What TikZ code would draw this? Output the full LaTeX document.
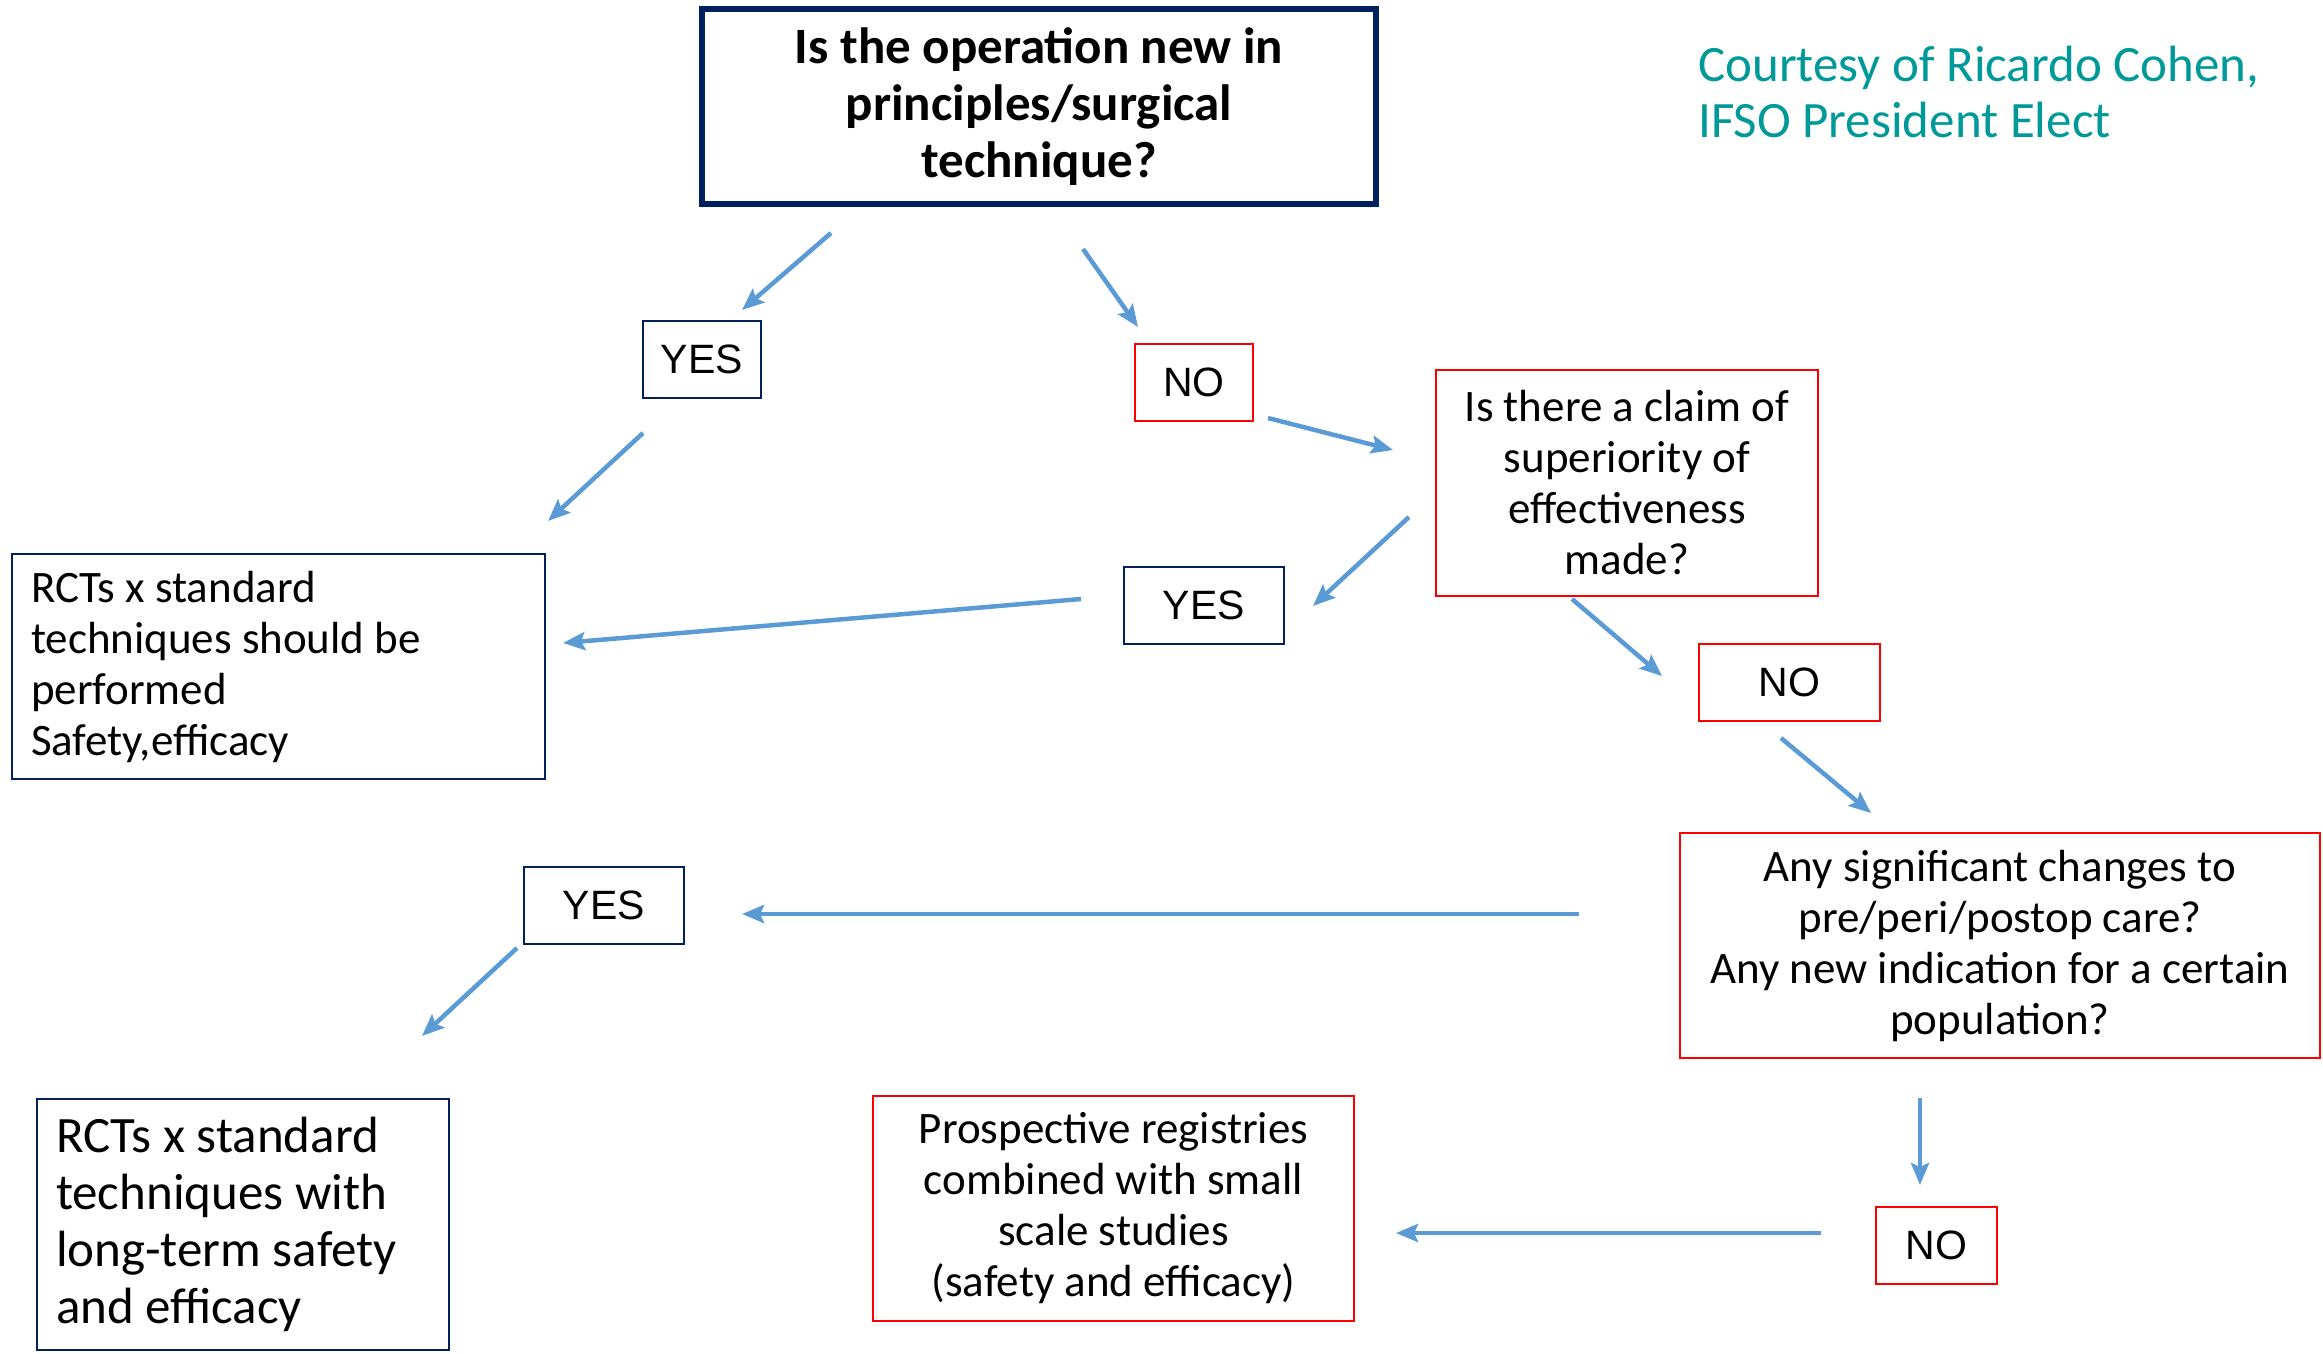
\documentclass[tikz,border=0pt]{standalone}
\usepackage{fontspec}
\setmainfont{Carlito}
\newfontfamily\labelfont{Liberation Sans}
\usetikzlibrary{arrows.meta}
\definecolor{navy}{HTML}{002060}
\definecolor{flow}{HTML}{5B9BD5}
\definecolor{alert}{HTML}{FF0000}
\definecolor{credit}{HTML}{00999A}
\begin{document}
\begin{tikzpicture}[x=1pt,y=-1pt,
  box/.style={draw, line width=2.2pt, inner sep=0pt, align=center},
  navybox/.style={box, draw=navy},
  redbox/.style={box, draw=alert},
  answer/.style={font=\labelfont\fontsize{41}{50}\selectfont, minimum height=77pt},
  body/.style={font=\fontsize{45}{51}\selectfont},
  flowarrow/.style={draw=flow, line width=4.5pt, -{Stealth[length=22pt,width=18pt,inset=4pt]}}
]
\useasboundingbox (0,0) rectangle (2323,1354);

% question at the top
\node[box, draw=navy, line width=6pt, minimum width=674pt, minimum height=195pt,
      font=\bfseries\fontsize{51}{57}\selectfont] (top) at (1039,106.5)
  {Is the operation new in\\principles/surgical\\technique?};

% credit line
\node[anchor=north west, align=flush left, text=credit, inner sep=0pt,
      font=\fontsize{51}{56}\selectfont] (credit) at (1698,46)
  {Courtesy of Ricardo Cohen,\\IFSO President Elect};

% answers and outcomes
\node[navybox, answer, minimum width=118pt] (yes1) at (702,359.5) {YES};
\node[redbox, answer, minimum width=118pt] (no1) at (1194,382.5) {NO};
\node[redbox, body, minimum width=382pt, minimum height=226pt] (claim) at (1627,483)
  {Is there a claim of\\superiority of\\effectiveness\\made?};
\node[navybox, body, align=flush left, text width=495pt, inner xsep=19pt,
      minimum height=225pt] (rct1) at (278.5,666.5)
  {RCTs x standard\\techniques should be\\performed\\Safety,efficacy};
\node[navybox, answer, minimum width=160pt] (yes2) at (1204,605.5) {YES};
\node[redbox, answer, minimum width=181pt] (no2) at (1789.5,682.5) {NO};
\node[redbox, body, minimum width=640pt, minimum height=225pt] (any) at (2000,945.5)
  {Any significant changes to\\pre/peri/postop care?\\Any new indication for a certain\\population?};
\node[navybox, answer, minimum width=160pt] (yes3) at (604,905.5) {YES};
\node[navybox, align=flush left, text width=374pt, inner xsep=19pt, minimum height=251pt,
      font=\fontsize{51}{57}\selectfont] (rct2) at (243,1224.5)
  {RCTs x standard\\techniques with\\long-term safety\\and efficacy};
\node[redbox, body, minimum width=481pt, minimum height=225pt] (pros) at (1113.5,1208.5)
  {Prospective registries\\combined with small\\scale studies\\(safety and efficacy)};
\node[redbox, answer, minimum width=121pt] (no3) at (1936.5,1245.5) {NO};

% arrow end points
\coordinate (a1s) at (831,233);   \coordinate (a1e) at (742,310);
\coordinate (a2s) at (1083,249);  \coordinate (a2e) at (1138,327);
\coordinate (a3s) at (1268,418);  \coordinate (a3e) at (1393,450);
\coordinate (a4s) at (643,433);   \coordinate (a4e) at (548,521);
\coordinate (a5s) at (1409,517);  \coordinate (a5e) at (1313,606);
\coordinate (a6s) at (1081,599);  \coordinate (a6e) at (563,643);
\coordinate (a7s) at (1572,599);  \coordinate (a7e) at (1662,676);
\coordinate (a8s) at (1781,738);  \coordinate (a8e) at (1871,813);
\coordinate (a9s) at (1579,914);  \coordinate (a9e) at (742,914);
\coordinate (a10s) at (517,948);  \coordinate (a10e) at (422,1036);
\coordinate (a11s) at (1920,1098); \coordinate (a11e) at (1920,1185);
\coordinate (a12s) at (1821,1233); \coordinate (a12e) at (1396,1233);

\foreach \i in {1,...,12}
  \draw[flowarrow] (a\i s) -- (a\i e);
\end{tikzpicture}
\end{document}
